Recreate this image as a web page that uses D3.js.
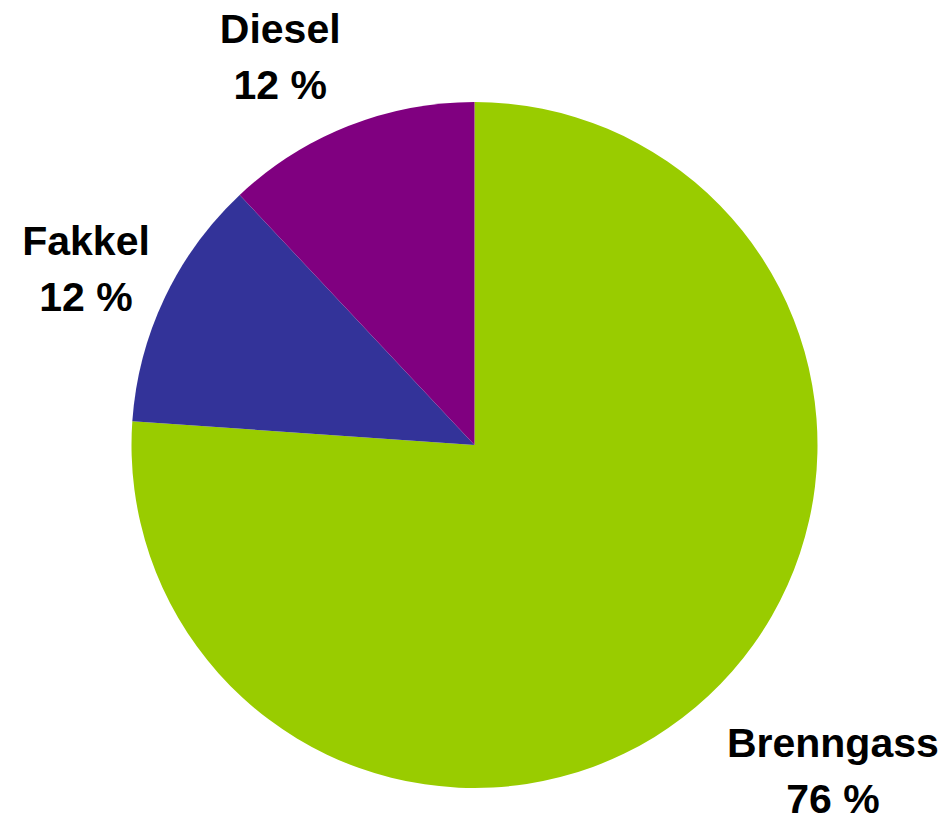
<!DOCTYPE html>
<html>
<head>
<meta charset="utf-8">
<script src="https://cdn.jsdelivr.net/npm/d3@7"></script>
<style>
  html, body { margin: 0; padding: 0; background: #fff; }
  svg { display: block; }
</style>
</head>
<body>
<script>
// Data
const categories = ["Brenngass", "Fakkel", "Diesel"];
const values = [76.1, 11.9, 12.0];
const percentLabels = ["76 %", "12 %", "12 %"];
const colors = ["#99CC00", "#333399", "#800080"];

// Layout
const W = 947, H = 818;
const cx = 474.5, cy = 445, R = 343;
const labelRadius = 430;
const labelNudge = [[65, 12], [0, 8], [-36, 12]];
const fontSize = 41, lineGap = 56;

const svg = d3.select("body").append("svg")
  .attr("width", W).attr("height", H);

const data = categories.map((c, i) => ({ name: c, value: values[i], pct: percentLabels[i], color: colors[i], i }));

const pie = d3.pie().value(d => d.value).sort(null).startAngle(0).endAngle(2 * Math.PI);
const arcs = pie(data);
const arc = d3.arc().innerRadius(0).outerRadius(R);
const labelArc = d3.arc().innerRadius(labelRadius).outerRadius(labelRadius);

const g = svg.append("g").attr("transform", `translate(${cx},${cy})`);

g.selectAll("path.slice").data(arcs).enter().append("path")
  .attr("class", "slice")
  .attr("d", arc)
  .attr("fill", d => d.data.color);

g.selectAll("text.label").data(arcs).enter().append("text")
  .attr("class", "label")
  .attr("font-family", "'Liberation Sans', Arial, sans-serif")
  .attr("font-weight", "bold")
  .attr("font-size", fontSize)
  .attr("fill", "#000")
  .attr("text-anchor", "middle")
  .each(function(d) {
    const [x, y] = labelArc.centroid(d);
    const n = labelNudge[d.data.i];
    const lx = x + n[0], ly = y + n[1];
    const b1 = ly - 14;
    const t = d3.select(this);
    t.append("tspan").attr("x", lx).attr("y", b1).text(d.data.name);
    t.append("tspan").attr("x", lx).attr("y", b1 + lineGap).text(d.data.pct);
  });
</script>
</body>
</html>
